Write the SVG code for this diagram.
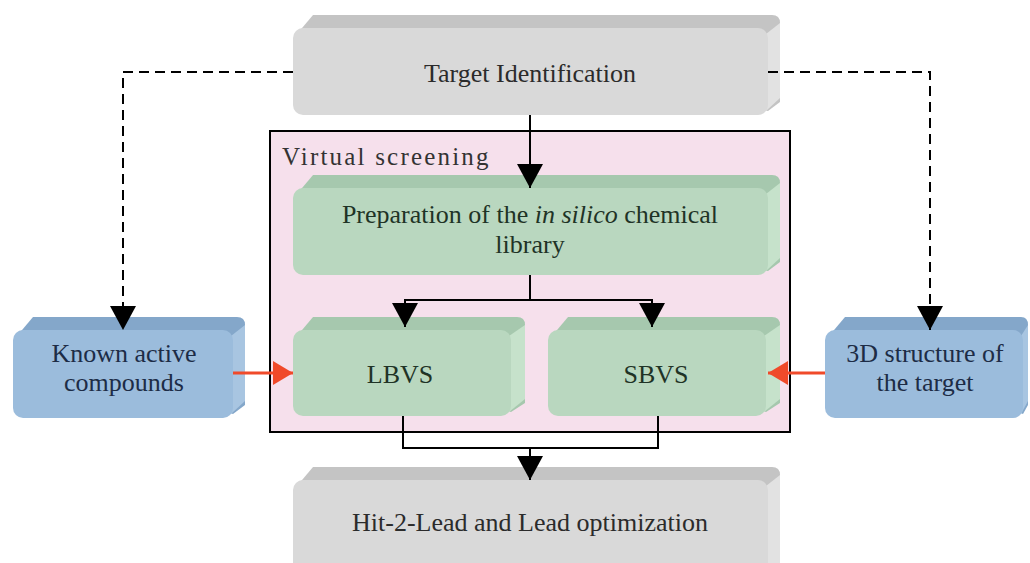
<svg xmlns="http://www.w3.org/2000/svg" width="1030" height="563" viewBox="0 0 1030 563">
<defs>
<marker id="ahBig" markerWidth="24" markerHeight="26" refX="24" refY="13" orient="auto" markerUnits="userSpaceOnUse" viewBox="0 0 24 26"><path d="M0,0 L24,13 L0,26 Z" fill="#000"/></marker>
<marker id="ahRed" markerWidth="20" markerHeight="24" refX="20" refY="12" orient="auto" markerUnits="userSpaceOnUse" viewBox="0 0 20 24"><path d="M0,0 L20,12 L0,24 Z" fill="#f04a2a"/></marker>
</defs>
<style>
text{font-family:'Liberation Serif',serif}
.t{font-size:26px;text-anchor:middle}
.gray .back{fill:#c4c4c4}.gray .side{fill:#e2e2e2}.gray .front{fill:#d9d9d9}.gray text{fill:#2b2b2b}
.green .back{fill:#a6c8ae}.green .side{fill:#c6e2cb}.green .front{fill:#b9d7bf}.green text{fill:#1f3326}
.blue .back{fill:#84a7ca}.blue .side{fill:#a8c5e1}.blue .front{fill:#9bbcdc}.blue text{fill:#1d2c46}
.con{fill:none;stroke:#000;stroke-width:2}
.dash{stroke-dasharray:10 6}
.red{fill:none;stroke:#f04a2a;stroke-width:3}
</style>
<rect width="1030" height="563" fill="#fff"/>
<g id="virtual-screening">
<rect x="270" y="131" width="520" height="301" fill="#f6e0ec" stroke="#000" stroke-width="2"/>
<text x="282" y="165" font-family="Liberation Serif, serif" font-size="25" letter-spacing="2.2" fill="#333">Virtual screening</text>
</g>
<g id="target" class="gray">
<path class="back" d="M297,34 L313,15 H772 Q780,15 780,23 V102 L768,111 Z"/>
<path class="side" d="M766,34 L780,23 V98 L766,111 Z"/>
<rect class="front" x="293" y="28" width="475" height="87" rx="10"/>
<text class="t" x="530" y="82" font-family="Liberation Serif, serif">Target Identification</text>
</g>
<g id="prep" class="green">
<path class="back" d="M297,194 L313,175 H772 Q780,175 780,183 V262 L768,271 Z"/>
<path class="side" d="M766,194 L780,183 V258 L766,271 Z"/>
<rect class="front" x="293" y="188" width="475" height="87" rx="10"/>
<text class="t" x="530" y="223" font-family="Liberation Serif, serif">Preparation of the <tspan font-style="italic">in silico</tspan> chemical</text>
<text class="t" x="530" y="253" font-family="Liberation Serif, serif">library</text>
</g>
<g id="lbvs" class="green">
<path class="back" d="M297,336 L313,317 H517 Q525,317 525,325 V403 L511,412 Z"/>
<path class="side" d="M509,336 L525,325 V399 L509,412 Z"/>
<rect class="front" x="293" y="330" width="218" height="86" rx="10"/>
<text class="t" x="400" y="383" font-family="Liberation Serif, serif">LBVS</text>
</g>
<g id="sbvs" class="green">
<path class="back" d="M552,336 L568,317 H772 Q780,317 780,325 V403 L766,412 Z"/>
<path class="side" d="M764,336 L780,325 V399 L764,412 Z"/>
<rect class="front" x="548" y="330" width="218" height="86" rx="10"/>
<text class="t" x="656" y="383" font-family="Liberation Serif, serif">SBVS</text>
</g>
<g id="known" class="blue">
<path class="back" d="M17,336 L33,317 H237 Q245,317 245,325 V405 L233,414 Z"/>
<path class="side" d="M231,336 L245,325 V401 L231,414 Z"/>
<rect class="front" x="13" y="330" width="220" height="88" rx="10"/>
<text class="t" x="124" y="362" font-family="Liberation Serif, serif">Known active</text>
<text class="t" x="124" y="391" font-family="Liberation Serif, serif">compounds</text>
</g>
<g id="structure" class="blue">
<path class="back" d="M829,336 L845,317 H1021 Q1028,317 1028,325 V405 L1023,414 Z"/>
<path class="side" d="M1021,336 L1028,325 V401 L1021,414 Z"/>
<rect class="front" x="825" y="330" width="198" height="88" rx="10"/>
<text class="t" x="925" y="362" font-family="Liberation Serif, serif">3D structure of</text>
<text class="t" x="925" y="391" font-family="Liberation Serif, serif">the target</text>
</g>
<g id="hit2lead" class="gray">
<path class="back" d="M297,486 L313,467 H772 Q780,467 780,475 V563 L768,563 Z"/>
<path class="side" d="M766,486 L780,475 V563 L766,563 Z"/>
<rect class="front" x="293" y="480" width="475" height="95" rx="10"/>
<text class="t" x="530" y="531" font-family="Liberation Serif, serif">Hit-2-Lead and Lead optimization</text>
</g>
<g id="connectors">
<path class="con dash" d="M293,72 H123 V330" marker-end="url(#ahBig)"/>
<path class="con dash" d="M768,72 H930 V330" marker-end="url(#ahBig)"/>
<path class="con" d="M530,115 V188" marker-end="url(#ahBig)"/>
<path class="con" d="M530,275 V300 H405 V327" marker-end="url(#ahBig)"/>
<path class="con" d="M530,300 H652 V327" marker-end="url(#ahBig)"/>
<path class="con" d="M403,416 V448 H658 V416"/>
<path class="con" d="M530,448 V480" marker-end="url(#ahBig)"/>
<path class="red" d="M233,373 H293" marker-end="url(#ahRed)"/>
<path class="red" d="M825,373 H768" marker-end="url(#ahRed)"/>
</g>
</svg>
